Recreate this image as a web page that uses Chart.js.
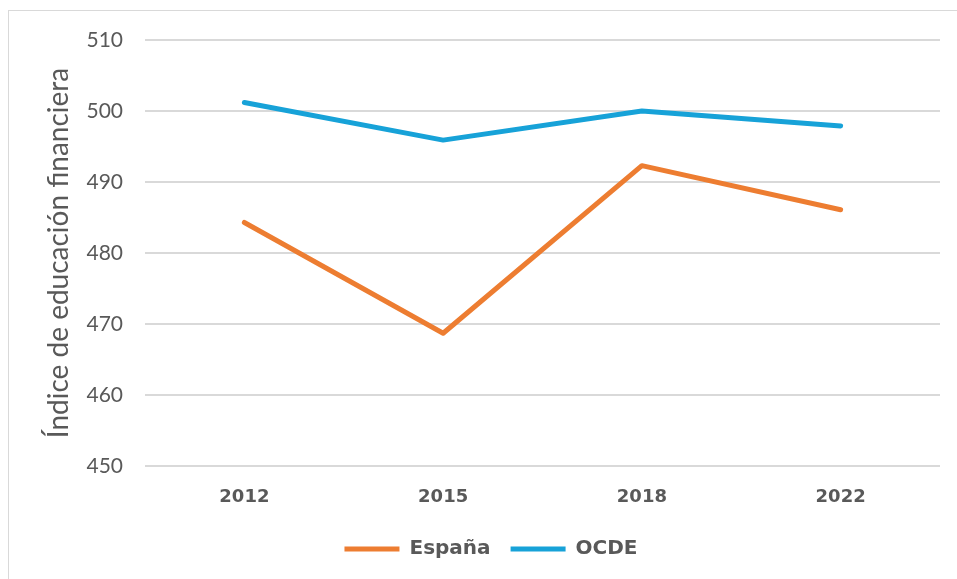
<!DOCTYPE html>
<html>
<head>
<meta charset="utf-8">
<script src="https://cdn.jsdelivr.net/npm/chart.js@4"></script>
<style>
  html, body { margin: 0; padding: 0; background: #fff; overflow: hidden; }
  #wrap { position: relative; width: 957px; height: 579px; }
  #frame { position: absolute; left: 8px; top: 10px; width: 1000px; height: 700px; border: 1.5px solid #d9d9d9; box-sizing: border-box; }
  canvas { position: absolute; left: 0; top: 0; }
</style>
</head>
<body>
<div id="wrap">
  <div id="frame"></div>
  <canvas id="chart" width="957" height="579"></canvas>
</div>
<script>
const years = ['2012', '2015', '2018', '2022'];
const espana = [484.3, 468.7, 492.3, 486.1];
const ocde = [501.2, 495.9, 500.0, 497.9];
const yTicks = [450, 460, 470, 480, 490, 500, 510];

const gray = '#595959';
const font = 'Lato, "Open Sans", sans-serif';
const boldFont = '"DejaVu Sans", Lato, sans-serif';

new Chart(document.getElementById('chart').getContext('2d'), {
    type: 'line',
    data: {
        labels: years,
        datasets: [
            { label: 'España', data: espana, borderColor: '#ED7D31', backgroundColor: '#ED7D31', borderWidth: 5, borderCapStyle: 'round', borderJoinStyle: 'round', pointRadius: 0, tension: 0 },
            { label: 'OCDE', data: ocde, borderColor: '#17A2D8', backgroundColor: '#17A2D8', borderWidth: 5, borderCapStyle: 'round', borderJoinStyle: 'round', pointRadius: 0, tension: 0 }
        ]
    },
    options: {
        responsive: false,
        animation: false,
        layout: { padding: { left: 42, right: 17, top: 40, bottom: 10 } },
        scales: {
            x: {
                offset: true,
                grid: { display: false },
                border: { display: false },
                ticks: { color: gray, font: { family: boldFont, size: 18, weight: 'bold' }, padding: 13 },
                afterFit: s => { s.height = 53; }
            },
            y: {
                min: 450,
                max: 510,
                afterBuildTicks: s => { s.ticks = yTicks.map(v => ({ value: v })); },
                grid: { color: '#d9d9d9', lineWidth: 2, drawTicks: false },
                border: { display: false },
                ticks: { color: gray, font: { family: font, size: 21 }, padding: 22 },
                title: { display: true, text: 'Índice de educación financiera', color: gray, font: { family: font, size: 28 }, padding: 0 },
                afterFit: s => { s.width = 103; }
            }
        },
        plugins: {
            legend: {
                position: 'bottom',
                labels: {
                    usePointStyle: true,
                    pointStyle: 'line',
                    pointStyleWidth: 55,
                    color: gray,
                    font: { family: boldFont, size: 20, weight: 'bold' },
                    padding: 20,
                    boxHeight: 10
                }
            },
            tooltip: { enabled: false }
        }
    }
});
</script>
</body>
</html>
